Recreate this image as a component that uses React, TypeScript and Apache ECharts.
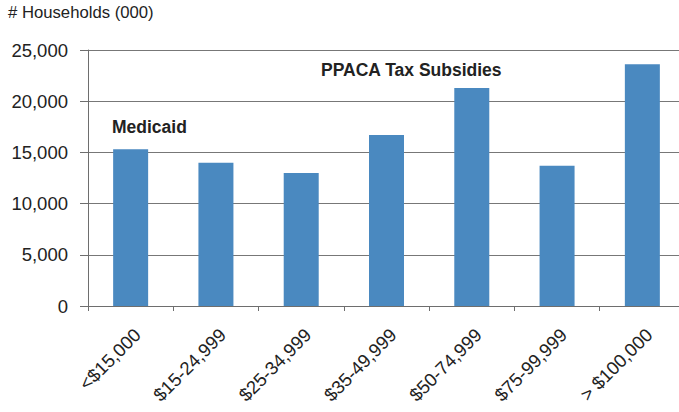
import React, { useEffect, useRef } from "react";
import * as echarts from "echarts";

const categories = ["<$15,000", "$15-24,999", "$25-34,999", "$35-49,999", "$50-74,999", "$75-99,999", "> $100,000"];
const households = [15300, 14000, 13000, 16700, 21300, 13700, 23600];
const yTicks = [0, 5000, 10000, 15000, 20000, 25000];

const FONT = "Liberation Sans, Arial, Helvetica, sans-serif";

export default function App() {
  const ref = useRef<HTMLDivElement>(null);
  useEffect(() => {
    if (!ref.current) return;
    const chart = echarts.init(ref.current, null, { renderer: "svg" });
    chart.setOption({
      animation: false,
      backgroundColor: "#ffffff",
      textStyle: { fontFamily: FONT },
      grid: { left: 88, top: 50, width: 597, height: 256, containLabel: false },
      xAxis: {
        type: "category",
        data: categories,
        axisLine: { show: true, lineStyle: { color: "#6e6e6e", width: 1 } },
        axisTick: { show: true, length: 5, lineStyle: { color: "#6e6e6e" }, alignWithLabel: false },
        axisLabel: {
          rotate: 45,
          margin: 19,
          fontSize: 18.5,
          color: "#222",
          fontFamily: FONT,
          interval: 0,
          verticalAlign: "top",
        },
      },
      yAxis: {
        type: "value",
        min: yTicks[0],
        max: yTicks[yTicks.length - 1],
        interval: 5000,
        axisLine: { show: true, lineStyle: { color: "#6e6e6e", width: 1 } },
        axisTick: { show: true, length: 8, lineStyle: { color: "#6e6e6e" } },
        splitLine: { show: true, lineStyle: { color: "#777", width: 1 } },
        axisLabel: {
          margin: 20,
          fontSize: 18.5,
          color: "#222",
          fontFamily: FONT,
          formatter: (v: number) => v.toLocaleString("en-US"),
        },
      },
      series: [
        {
          type: "bar",
          data: households,
          barWidth: 35,
          itemStyle: { color: "#4a89c0" },
        },
      ],
      graphic: [
        {
          type: "text",
          left: 8,
          top: 4,
          style: { text: "# Households (000)", fontSize: 16.7, fill: "#222", fontFamily: FONT },
        },
        {
          type: "text",
          left: 112,
          top: 118,
          style: { text: "Medicaid", fontSize: 17.5, fontWeight: "bold", fill: "#222", fontFamily: FONT },
        },
        {
          type: "text",
          left: 321,
          top: 61,
          style: { text: "PPACA Tax Subsidies", fontSize: 17.5, fontWeight: "bold", fill: "#222", fontFamily: FONT },
        },
      ],
    });
    return () => chart.dispose();
  }, []);
  return (
    <div style={{ position: "absolute", left: 0, top: 0, width: 679, height: 412, overflow: "hidden" }}>
      <div ref={ref} style={{ width: 690, height: 412 }} />
    </div>
  );
}
